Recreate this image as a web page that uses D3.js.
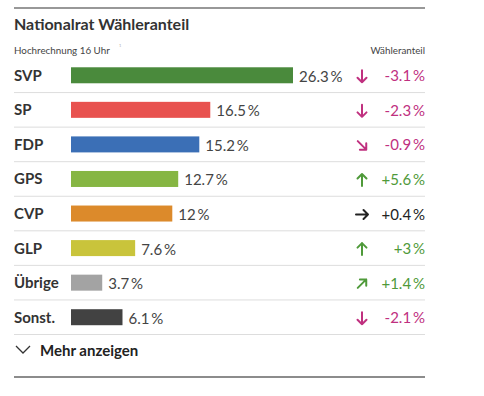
<!DOCTYPE html>
<html><head><meta charset="utf-8">
<script src="https://cdn.jsdelivr.net/npm/d3@7"></script>
<style>
body{margin:0;background:#fff;}
svg{display:block;font-family:Lato,"Open Sans",sans-serif;}
</style></head>
<body>
<script>
const parties = ["SVP","SP","FDP","GPS","CVP","GLP","Übrige","Sonst."];
const shares = [26.3,16.5,15.2,12.7,12,7.6,3.7,6.1];
const changes = [-3.1,-2.3,-0.9,5.6,0.4,3,1.4,-2.1];
const arrows = ["↓","↓","↘","↑","→","↑","↗","↓"];
const colors = ["#4a8a3c","#e8524f","#3b6fb6","#86b643","#dc8a2b","#c9c43b","#a3a3a3","#424242"];

const W=484,H=396, L=14, R=425;
const svg=d3.select("body").append("svg").attr("width",W).attr("height",H);

svg.append("line").attr("x1",L).attr("x2",R).attr("y1",8).attr("y2",8).attr("stroke","#333").attr("stroke-width",1.2);
svg.append("text").attr("x",L).attr("y",30).attr("font-size",16).attr("font-weight",700).attr("fill","#333").text("Nationalrat Wähleranteil");
svg.append("text").attr("x",L).attr("y",54).attr("font-size",9.8).attr("fill","#444").text("Hochrechnung 16 Uhr");
svg.append("text").attr("x",119).attr("y",50).attr("font-size",7).attr("fill","#bbb").text("¹");
svg.append("text").attr("x",R).attr("y",54).attr("font-size",9.8).attr("fill","#444").attr("text-anchor","end").text("Wähleranteil");

const y=d3.scaleBand().domain(parties).range([58,334.5]).paddingInner(0).paddingOuter(0);
const x=d3.scaleLinear().domain([0,26.3]).range([71,293]);
const fmt=v=>v+"\u2009%";

const row=svg.selectAll("g.row").data(parties).join("g").attr("class","row")
  .attr("transform",d=>`translate(0,${y(d)})`);
const bw=y.bandwidth();
row.append("text").attr("x",L).attr("y",bw/2+5.5).attr("font-size",15).attr("font-weight",700).attr("fill","#333").text(d=>d);
row.append("rect").attr("x",x(0)).attr("y",bw/2-8).attr("height",16)
  .attr("width",(d,i)=>x(shares[i])-x(0)).attr("fill",(d,i)=>colors[i]);
row.append("text").attr("x",(d,i)=>x(shares[i])+6).attr("y",bw/2+6.5).attr("font-size",15).attr("fill","#444")
  .text((d,i)=>fmt(shares[i]));
const chColor=v=>v<0?"#c0307f":(v===0.4?"#222":"#4f9a3a");
const angle={"↓":0,"↘":-45,"→":-90,"↗":-135,"↑":180};
row.append("path").attr("d","M0,-6V6M-4.5,1.5L0,6L4.5,1.5")
  .attr("transform",(d,i)=>`translate(362,${bw/2+1}) rotate(${angle[arrows[i]]})`)
  .attr("fill","none").attr("stroke-width",2).attr("stroke-linecap","round").attr("stroke-linejoin","round")
  .attr("stroke",(d,i)=>chColor(changes[i]));
row.append("text").attr("x",R).attr("y",bw/2+6).attr("font-size",15).attr("text-anchor","end")
  .attr("fill",(d,i)=>chColor(changes[i])).text((d,i)=>(changes[i]>0?"+":"")+changes[i]+"\u2009%");
row.append("line").attr("x1",L).attr("x2",R).attr("y1",bw).attr("y2",bw).attr("stroke","#ddd").attr("stroke-width",1);

svg.append("path").attr("d","M16,346 L23,353 L30,346").attr("fill","none").attr("stroke","#333").attr("stroke-width",1.3);
svg.append("text").attr("x",40).attr("y",356).attr("font-size",15).attr("font-weight",700).attr("fill","#222").text("Mehr anzeigen");
svg.append("line").attr("x1",L).attr("x2",R).attr("y1",377).attr("y2",377).attr("stroke","#666").attr("stroke-width",1.3);
</script>
</body></html>
